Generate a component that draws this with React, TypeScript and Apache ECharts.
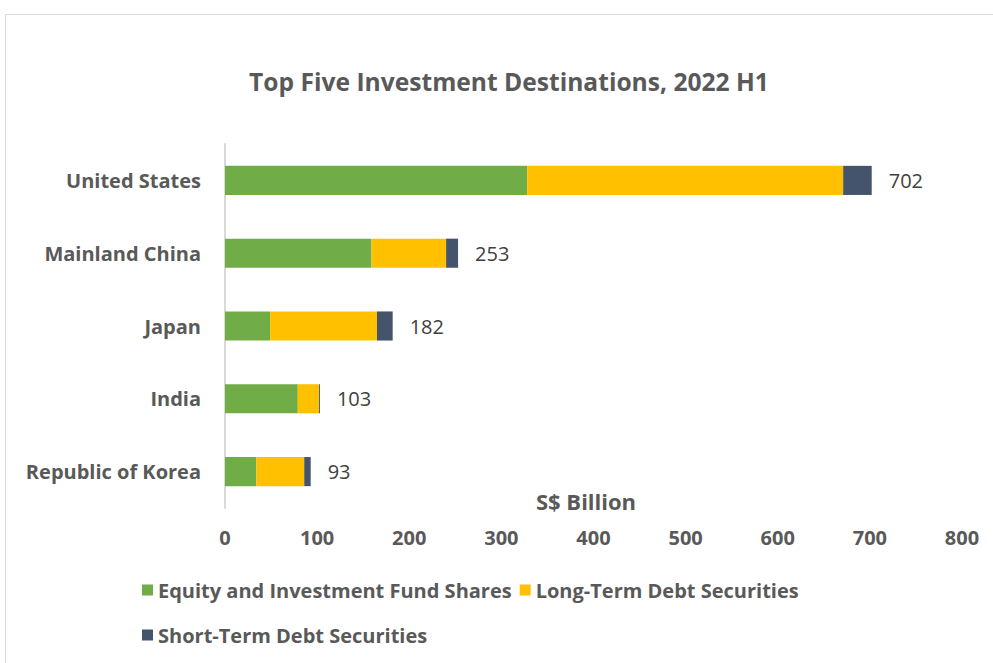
import React, { useEffect, useRef } from "react";
import * as echarts from "echarts";

const categories = ["United States", "Mainland China", "Japan", "India", "Republic of Korea"];
const equity = [328, 159, 49, 79, 34];
const longTerm = [343, 81, 116, 23, 52];
const shortTerm = [31, 13, 17, 1, 7];
const totals = [702, 253, 182, 103, 93];
const xTicks = [0, 100, 200, 300, 400, 500, 600, 700, 800];

const FONT = "'Open Sans', Lato, sans-serif";
const GRAY = "#595959";

export default function App() {
  const ref = useRef<HTMLDivElement>(null);
  useEffect(() => {
    if (!ref.current) return;
    const chart = echarts.init(ref.current, undefined, { renderer: "svg" });
    const cats = [...categories].reverse();
    const rev = (a: number[]) => [...a].reverse();
    const totalsRev = rev(totals);
    chart.setOption({
      animation: false,
      textStyle: { fontFamily: FONT },
      title: {
        text: "Top Five Investment Destinations, 2022 H1",
        left: 504,
        textAlign: "center",
        top: 64,
        textStyle: { fontFamily: FONT, fontSize: 24.6, fontWeight: "bold", color: GRAY },
      },
      graphic: [
        {
          type: "rect",
          shape: { x: 5.5, y: 14.5, width: 1100, height: 800 },
          style: { fill: "none", stroke: "#d9d9d9", lineWidth: 1 },
          silent: true,
          z: -10,
        },
        {
          type: "text",
          x: 586,
          y: 501,
          style: {
            text: "S$ Billion",
            fontFamily: FONT,
            fontSize: 22,
            fontWeight: "bold",
            fill: GRAY,
            textAlign: "center",
            textVerticalAlign: "middle",
          },
        },
      ],
      grid: { left: 225, right: 31, top: 144, bottom: 663 - 508, containLabel: false },
      xAxis: {
        type: "value",
        min: xTicks[0],
        max: xTicks[xTicks.length - 1],
        interval: 100,
        splitLine: { show: false },
        axisLine: { show: false },
        axisTick: { show: false },
        axisLabel: {
          margin: 19,
          fontFamily: FONT,
          fontSize: 20,
          fontWeight: "bold",
          color: GRAY,
        },
      },
      yAxis: {
        type: "category",
        data: cats,
        axisLine: { show: true, onZero: false, lineStyle: { color: "#d9d9d9", width: 2 } },
        axisTick: { show: false },
        axisLabel: {
          margin: 24,
          fontFamily: FONT,
          fontSize: 20,
          fontWeight: "bold",
          color: GRAY,
        },
      },
      legend: [
        {
          data: ["Equity and Investment Fund Shares", "Long-Term Debt Securities"],
          left: 137,
          top: 575,
          icon: "rect",
          itemWidth: 11,
          itemHeight: 11,
          itemGap: 8,
          textStyle: { fontFamily: FONT, fontSize: 20, fontWeight: "bold", color: GRAY },
        },
        {
          data: ["Short-Term Debt Securities"],
          left: 137,
          top: 620,
          icon: "rect",
          itemWidth: 11,
          itemHeight: 11,
          textStyle: { fontFamily: FONT, fontSize: 20, fontWeight: "bold", color: GRAY },
        },
      ],
      series: [
        {
          name: "Equity and Investment Fund Shares",
          type: "bar",
          stack: "total",
          data: rev(equity),
          barWidth: "40%",
          itemStyle: { color: "#70AD47" },
        },
        {
          name: "Long-Term Debt Securities",
          type: "bar",
          stack: "total",
          data: rev(longTerm),
          itemStyle: { color: "#FFC000" },
        },
        {
          name: "Short-Term Debt Securities",
          type: "bar",
          stack: "total",
          data: rev(shortTerm),
          itemStyle: { color: "#44546A" },
          label: {
            show: true,
            position: "right",
            distance: 17,
            fontFamily: FONT,
            fontSize: 20,
            color: "#404040",
            formatter: (p: any) => String(totalsRev[p.dataIndex]),
          },
        },
      ],
    });
    return () => chart.dispose();
  }, []);
  return (
    <div
      ref={ref}
      style={{ position: "absolute", left: 0, top: 0, width: 993, height: 663, background: "#fff" }}
    />
  );
}
